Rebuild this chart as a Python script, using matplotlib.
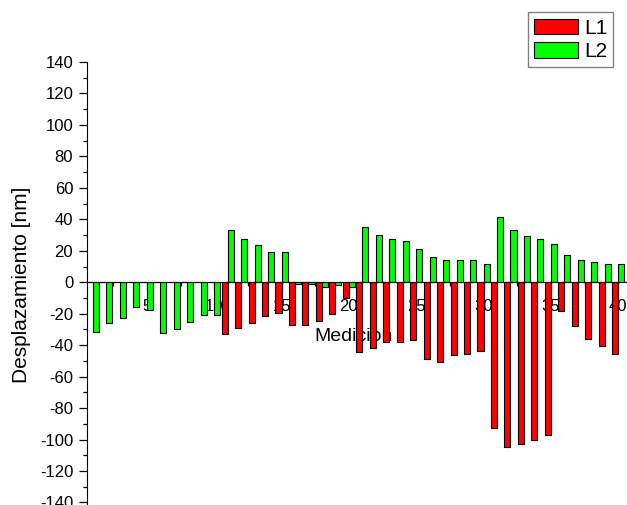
import matplotlib

matplotlib.use("Agg")
import matplotlib.pyplot as plt
import numpy as np
from matplotlib.ticker import MultipleLocator

plt.rcParams["font.family"] = ["Liberation Sans", "DejaVu Sans"]
plt.rcParams["axes.unicode_minus"] = False

medicion = np.arange(1, 41)
l1 = [0, 0, 0, 0, 0, 0, 0, 0, 0, 0,
      -33, -29, -26, -21.5, -19.5, -27.4, -27, -24.4, -19.9, -10,
      -44.5, -41.5, -38, -38, -36.5, -49, -51, -46.5, -45.4, -43.7,
      -92.7, -104.8, -103, -100, -97, -18.5, -27.8, -35.9, -40.5, -45.4]
l2 = [-31.5, -25.8, -22.6, -15.5, -17.6, -32.5, -30, -25, -20.8, -20.8,
      33.5, 27.4, 23.4, 19, 19, -1.4, -1.4, -3, -2, -3,
      35.2, 30.3, 27.4, 26.1, 21.4, 16.1, 14.4, 14, 14.4, 11.3,
      41.2, 33.5, 29.3, 27.4, 24.6, 17.2, 14.4, 12.7, 11.3, 11.3]

fig = plt.figure(figsize=(6.27, 5.05), dpi=100)
ax = fig.add_axes([0.1388, 0.0, 0.8612, 0.8772])

w = 0.45
ax.bar(medicion - w / 2, l1, width=w, color="#ff0000", edgecolor="black", linewidth=0.8, label="L1", zorder=3)
ax.bar(medicion + w / 2, l2, width=w, color="#00ff00", edgecolor="black", linewidth=0.8, label="L2", zorder=3)

ax.set_xlim(0.56, 40.65)
ax.set_ylim(-141.6, 140)
ax.spines["top"].set_visible(False)
ax.spines["right"].set_visible(False)
ax.spines["bottom"].set_position(("data", 0))
ax.spines["bottom"].set_zorder(4)

ax.xaxis.set_major_locator(MultipleLocator(5))
ax.xaxis.set_minor_locator(MultipleLocator(2.5))
ax.yaxis.set_major_locator(MultipleLocator(20))
ax.yaxis.set_minor_locator(MultipleLocator(10))
ax.tick_params(axis="both", which="major", direction="out", length=6, width=0.9, labelsize=12)
ax.tick_params(axis="both", which="minor", direction="out", length=3, width=0.9)
ax.tick_params(axis="x", which="major", pad=6)
ax.tick_params(axis="y", which="major", pad=4)
ax.set_xticks([5, 10, 15, 20, 25, 30, 35, 40])

ax.set_xlabel("Medicion", fontsize=14)
ax.xaxis.set_label_coords(0.494, 0.40)
ax.set_ylabel("Desplazamiento [nm]", fontsize=15)
ax.yaxis.set_label_coords(-0.104, 0.497)

fig.legend(loc="upper right", bbox_to_anchor=(613.3 / 627, 1 - 12.3 / 505), borderaxespad=0,
           fontsize=15, handlelength=2.1, handleheight=0.8, handletextpad=0.3, borderpad=0.3,
           labelspacing=0.2, fancybox=False, edgecolor="#808080", framealpha=1)

fig.savefig("out.png", dpi=100)
